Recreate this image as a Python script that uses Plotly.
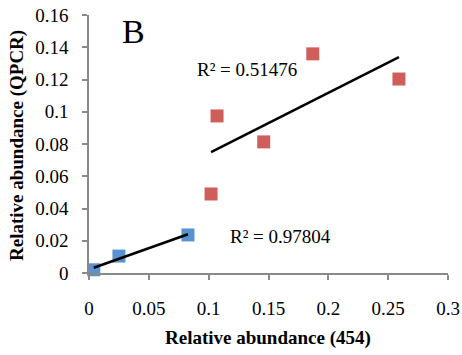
import plotly.graph_objects as go
import numpy as np

blue_x = [0.004, 0.025, 0.0827]
blue_y = [0.002, 0.0105, 0.0236]
red_x = [0.102, 0.107, 0.146, 0.187, 0.259]
red_y = [0.049, 0.0974, 0.0813, 0.1359, 0.1203]
r2_labels = ["R² = 0.97804", "R² = 0.51476"]
x_ticks = [0, 0.05, 0.1, 0.15, 0.2, 0.25, 0.3]
x_tick_text = ["0", "0.05", "0.1", "0.15", "0.2", "0.25", "0.3"]
y_ticks = [0, 0.02, 0.04, 0.06, 0.08, 0.1, 0.12, 0.14, 0.16]
y_tick_text = ["0", "0.02", "0.04", "0.06", "0.08", "0.1", "0.12", "0.14", "0.16"]

font = "Liberation Serif"
W, H = 462, 355
L, R, T, B = 89, 14, 15, 82
pw, ph = W - L - R, H - T - B

def fit(xs, ys):
    m, b = np.polyfit(xs, ys, 1)
    x0, x1 = min(xs), max(xs)
    return [x0, x1], [m * x0 + b, m * x1 + b]

fig = go.Figure()
bx, by = fit(blue_x, blue_y)
rx, ry = fit(red_x, red_y)
fig.add_trace(go.Scatter(x=blue_x, y=blue_y, mode="markers",
                         marker=dict(symbol="square", size=13, color="#5892d0"),
                         showlegend=False, cliponaxis=False))
fig.add_trace(go.Scatter(x=red_x, y=red_y, mode="markers",
                         marker=dict(symbol="square", size=13, color="#cf5e5b"),
                         showlegend=False, cliponaxis=False))
fig.add_trace(go.Scatter(x=bx, y=by, mode="lines", line=dict(color="black", width=2.5),
                         showlegend=False, cliponaxis=False))
fig.add_trace(go.Scatter(x=rx, y=ry, mode="lines", line=dict(color="black", width=2.5),
                         showlegend=False, cliponaxis=False))

fig.add_annotation(x=0.116, y=0.0225, text=r2_labels[0], showarrow=False,
                   xanchor="left", yanchor="middle", font=dict(family=font, size=19, color="black"))
fig.add_annotation(x=0.0885, y=0.1265, text=r2_labels[1], showarrow=False,
                   xanchor="left", yanchor="middle", font=dict(family=font, size=19, color="black"))
fig.add_annotation(x=0.026, y=0.1495, text="B", showarrow=False,
                   xanchor="left", yanchor="middle", font=dict(family=font, size=34, color="black"))

# axis titles as paper-anchored annotations
fig.add_annotation(xref="paper", yref="paper", x=(268 - L) / pw, y=(T + ph - 338) / ph,
                   text="<b>Relative abundance (454)</b>", showarrow=False,
                   xanchor="center", yanchor="middle", font=dict(family=font, size=19, color="black"))
fig.add_annotation(xref="paper", yref="paper", x=(17 - L) / pw, y=(T + ph - 146) / ph,
                   text="<b>Relative abundance (QPCR)</b>", showarrow=False, textangle=-90,
                   xanchor="center", yanchor="middle", font=dict(family=font, size=19, color="black"))

axis_common = dict(showgrid=False, zeroline=False, showline=True, linecolor="#898989", linewidth=1.5,
                   ticks="outside", ticklen=5, tickcolor="#898989", tickwidth=1.5, automargin=False,
                   tickfont=dict(family=font, size=19, color="black"))
fig.update_xaxes(range=[0, 0.3], tickvals=x_ticks, ticktext=x_tick_text, ticklabelstandoff=12,
                 **axis_common)
fig.update_yaxes(range=[0, 0.16], tickvals=y_ticks, ticktext=y_tick_text, ticklabelstandoff=10,
                 **axis_common)
fig.update_layout(width=W, height=H, margin=dict(l=L, r=R, t=T, b=B),
                  plot_bgcolor="white", paper_bgcolor="white")
fig.write_html("out.html")
